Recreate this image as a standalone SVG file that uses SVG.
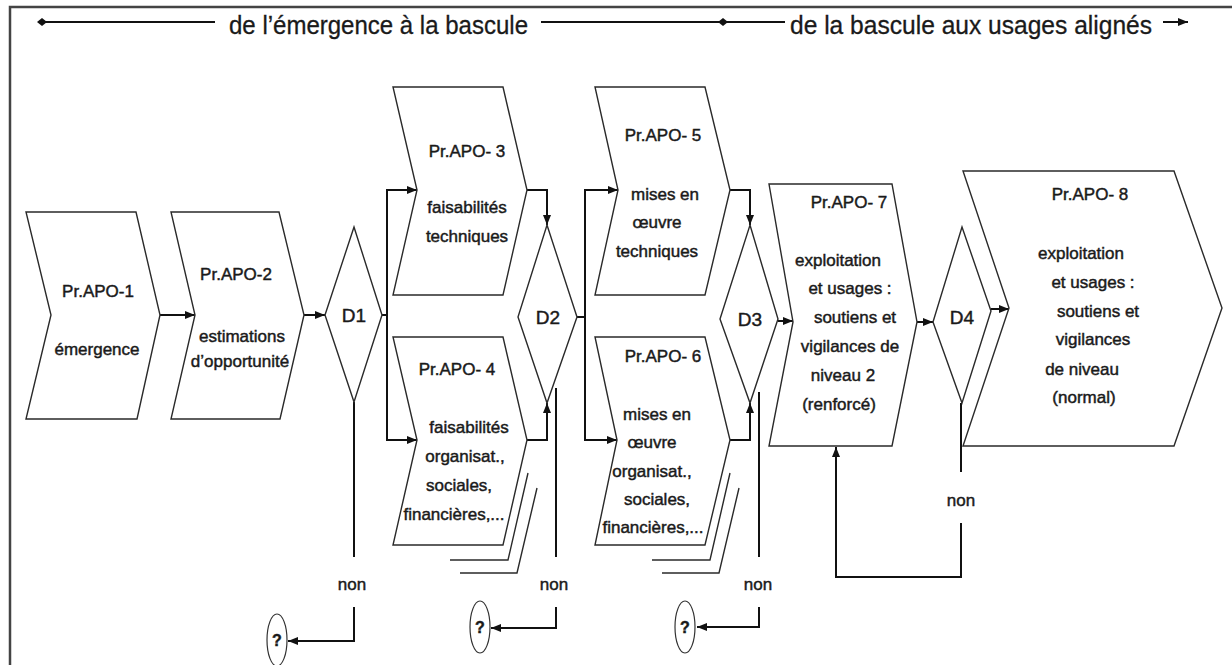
<svg xmlns="http://www.w3.org/2000/svg" width="1232" height="665" viewBox="0 0 1232 665">
<style>
.shape{fill:#fff;stroke:#2a2a2a;stroke-width:1.4;stroke-linejoin:miter}
.shadow{fill:none;stroke:#2a2a2a;stroke-width:1.4}
.conn{fill:none;stroke:#111;stroke-width:2}
.frame{fill:none;stroke:#444;stroke-width:2.5}
.t{font-family:"Liberation Sans",Arial,sans-serif;font-size:17px;fill:#1a1a1a;stroke:#1a1a1a;stroke-width:0.45;text-anchor:middle}
.d{font-size:19px}
.h{font-size:26px;text-anchor:start;stroke-width:0.3}
.q{font-weight:bold;font-size:16px}
.circ{fill:#fff;stroke:#333;stroke-width:1.2}
</style>
<defs>
<marker id="arr" viewBox="0 0 10 8" refX="10" refY="4" markerWidth="10" markerHeight="8" markerUnits="userSpaceOnUse" orient="auto"><path d="M0,0 L10,4 L0,8 z" fill="#111"/></marker>
<marker id="dia" viewBox="-5 -4 10 8" refX="0" refY="0" markerWidth="10" markerHeight="8" markerUnits="userSpaceOnUse" orient="auto"><path d="M-5,0 L0,-4 L5,0 L0,4 z" fill="#111"/></marker>
</defs>
<rect width="1232" height="665" fill="#fff"/>
<polyline class="frame" points="10,665 10,7 1232,7"/>

<g id="header">
<line class="conn" x1="42" y1="22" x2="215" y2="22" marker-start="url(#dia)"/>
<text class="t h" x="229" y="34" textLength="299" lengthAdjust="spacingAndGlyphs">de l’émergence à la bascule</text>
<line class="conn" x1="541" y1="22" x2="723" y2="22"/>
<line class="conn" x1="723" y1="22" x2="785" y2="22" marker-start="url(#dia)"/>
<text class="t h" x="790" y="34" textLength="362" lengthAdjust="spacingAndGlyphs">de la bascule aux usages alignés</text>
<line class="conn" x1="1163" y1="22" x2="1188" y2="22" marker-end="url(#arr)"/>
</g>

<g id="connectors">
<path class="conn" d="M160,315 H195" marker-end="url(#arr)"/>
<path class="conn" d="M304,315 H325" marker-end="url(#arr)"/>
<path class="conn" d="M382,315 H387 V190 H417" marker-end="url(#arr)"/>
<path class="conn" d="M387,315 V440 H417" marker-end="url(#arr)"/>
<path class="conn" d="M354,402 V557"/>
<path class="conn" d="M354,607 V641 H288" marker-end="url(#arr)"/>
<path class="conn" d="M527,190 H547 V225" marker-end="url(#arr)"/>
<path class="conn" d="M527,440 H547 V403" marker-end="url(#arr)"/>
<path class="conn" d="M556,388 V557"/>
<path class="conn" d="M556,607 V628 H491" marker-end="url(#arr)"/>
<path class="conn" d="M577,317 H585 V190 H618" marker-end="url(#arr)"/>
<path class="conn" d="M585,317 V440 H617" marker-end="url(#arr)"/>
<path class="conn" d="M730,190 H750 V225" marker-end="url(#arr)"/>
<path class="conn" d="M730,440 H750 V403" marker-end="url(#arr)"/>
<path class="conn" d="M759,392 V557"/>
<path class="conn" d="M759,607 V627 H697" marker-end="url(#arr)"/>
<path class="conn" d="M778,321 H793" marker-end="url(#arr)"/>
<path class="conn" d="M917,322 H933" marker-end="url(#arr)"/>
<path class="conn" d="M991,309 H1009" marker-end="url(#arr)"/>
<path class="conn" d="M961,403 V472"/>
<path class="conn" d="M961,523 V577 H836 V447" marker-end="url(#arr)"/>
<text class="t" x="352" y="590">non</text>
<text class="t" x="554" y="590">non</text>
<text class="t" x="758" y="590">non</text>
<text class="t" x="961" y="506">non</text>
</g>

<g id="apo1">
<polygon class="shape" points="26,212 136,212 160,315 137,419 26,419 51,315"/>
<text class="t" x="98" y="297">Pr.APO-1</text>
<text class="t" x="97" y="355">émergence</text>
</g>

<g id="apo2">
<polygon class="shape" points="171,212 279,212 304,315 280,419 171,419 195,315"/>
<text class="t" x="236" y="280">Pr.APO-2</text>
<text class="t" x="242" y="342">estimations</text>
<text class="t" x="240" y="367">d’opportunité</text>
</g>

<g id="d1">
<polygon class="shape" points="354,227 382,315 354,402 325,315"/>
<text class="t d" x="354" y="322">D1</text>
</g>

<g id="apo3">
<polygon class="shape" points="393,87 503,87 527,190 503,295 393,295 417,190"/>
<text class="t" x="467" y="157">Pr.APO- 3</text>
<text class="t" x="467" y="213">faisabilités</text>
<text class="t" x="467" y="242">techniques</text>
</g>

<g id="apo4">
<polyline class="shadow" points="537,488 517,573 460,573"/>
<polyline class="shadow" points="528,473 508,560 450,560"/>
<polygon class="shape" points="393,337 503,337 527,440 503,545 393,545 417,440"/>
<text class="t" x="457" y="375">Pr.APO- 4</text>
<text class="t" x="469" y="433">faisabilités</text>
<text class="t" x="465" y="462">organisat.,</text>
<text class="t" x="459" y="491">sociales,</text>
<text class="t" x="454" y="520">financières,...</text>
</g>

<g id="d2">
<polygon class="shape" points="547,225 577,317 547,403 518,317"/>
<text class="t d" x="548" y="324">D2</text>
</g>

<g id="apo5">
<polygon class="shape" points="595,87 705,87 730,190 705,295 595,295 618,190"/>
<text class="t" x="663" y="141">Pr.APO- 5</text>
<text class="t" x="665" y="200">mises en</text>
<text class="t" x="657" y="228">œuvre</text>
<text class="t" x="657" y="257">techniques</text>
</g>

<g id="apo6">
<polyline class="shadow" points="739,488 719,573 662,573"/>
<polyline class="shadow" points="730,473 710,560 652,560"/>
<polygon class="shape" points="595,337 705,337 730,440 705,545 595,545 617,440"/>
<text class="t" x="663" y="362">Pr.APO- 6</text>
<text class="t" x="657" y="420">mises en</text>
<text class="t" x="652" y="448">œuvre</text>
<text class="t" x="652" y="477">organisat.,</text>
<text class="t" x="657" y="505">sociales,</text>
<text class="t" x="653" y="533">financières,...</text>
</g>

<g id="d3">
<polygon class="shape" points="750,225 778,319 750,403 720,319"/>
<text class="t d" x="750" y="326">D3</text>
</g>

<g id="apo7">
<polygon class="shape" points="769,184 892,184 917,322 892,446 769,446 793,322"/>
<text class="t" x="849" y="208">Pr.APO- 7</text>
<text class="t" x="838" y="266">exploitation</text>
<text class="t" x="850" y="294">et usages :</text>
<text class="t" x="855" y="323">soutiens et</text>
<text class="t" x="850" y="352">vigilances de</text>
<text class="t" x="843" y="381">niveau 2</text>
<text class="t" x="839" y="410">(renforcé)</text>
</g>

<g id="d4">
<polygon class="shape" points="962,227 991,311 962,403 933,322"/>
<text class="t d" x="962" y="324">D4</text>
</g>

<g id="apo8">
<polygon class="shape" points="963,171 1174,171 1222,308 1174,446 963,446 1009,308"/>
<text class="t" x="1090" y="200">Pr.APO- 8</text>
<text class="t" x="1081" y="259">exploitation</text>
<text class="t" x="1093" y="288">et usages :</text>
<text class="t" x="1098" y="317">soutiens et</text>
<text class="t" x="1093" y="345">vigilances</text>
<text class="t" x="1082" y="375">de niveau</text>
<text class="t" x="1084" y="403">(normal)</text>
</g>

<g id="q1">
<ellipse class="circ" cx="277" cy="640" rx="10" ry="26"/>
<text class="t q" x="277" y="646">?</text>
</g>
<g id="q2">
<ellipse class="circ" cx="480" cy="627" rx="10" ry="26"/>
<text class="t q" x="480" y="633">?</text>
</g>
<g id="q3">
<ellipse class="circ" cx="685" cy="627" rx="10" ry="26"/>
<text class="t q" x="685" y="633">?</text>
</g>
</svg>
